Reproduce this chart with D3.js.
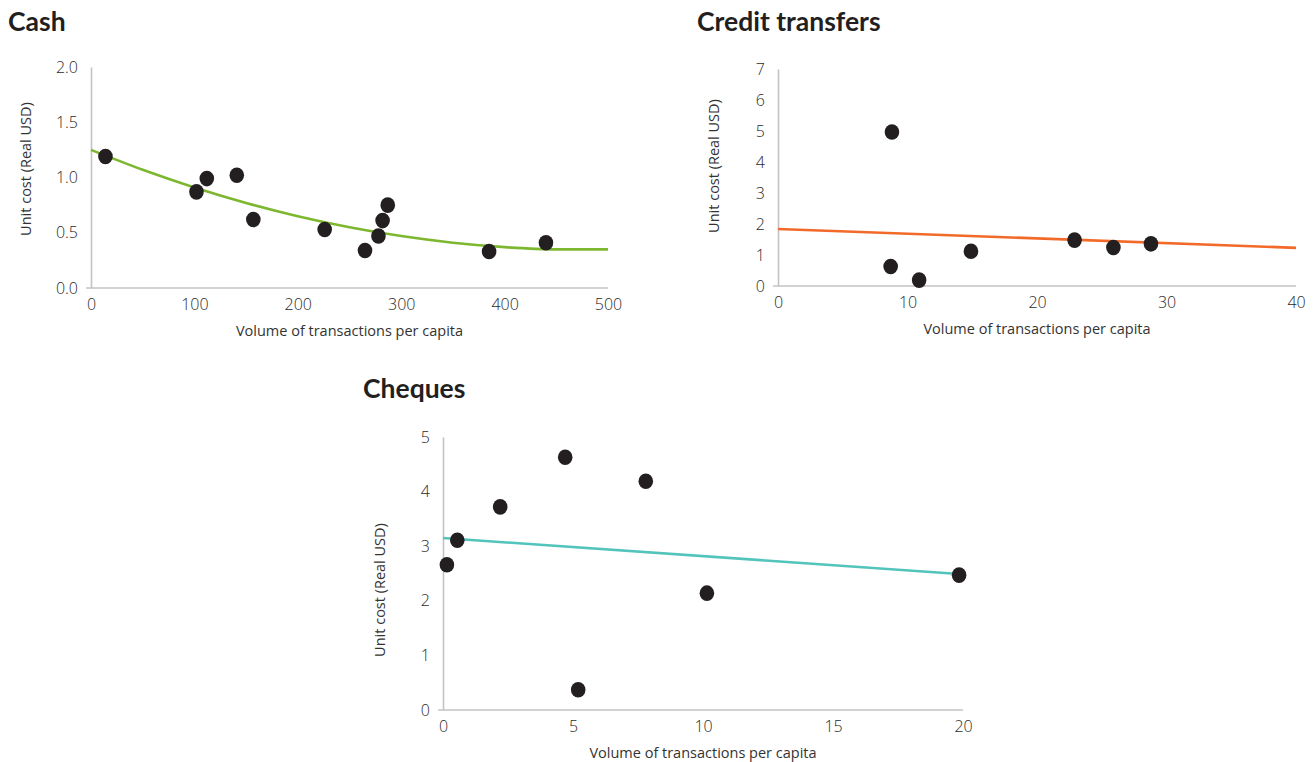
<!DOCTYPE html>
<html>
<head>
<meta charset="utf-8">
<script src="https://cdn.jsdelivr.net/npm/d3@7"></script>
<style>
  html, body { margin: 0; padding: 0; background: #fff; }
  svg { display: block; }
  .title { font-family: Lato, "Noto Sans", sans-serif; font-weight: 700; fill: #231f20; }
  .tick text { font-family: "Open Sans", "Noto Sans", sans-serif; font-weight: 300; fill: #2b2b2b; }
  .axis-title { font-family: "Open Sans", "Noto Sans", sans-serif; font-weight: 400; fill: #333; }
</style>
</head>
<body>
<svg id="chart" width="1315" height="762"></svg>
<script>
// ---- Data ----
// Cash
const cashX = [14, 102, 112, 141, 157, 226, 265, 278, 282, 287, 385, 440];
const cashY = [1.19, 0.87, 0.99, 1.02, 0.62, 0.53, 0.34, 0.47, 0.61, 0.75, 0.33, 0.41];
const cashTrendX = [0, 50, 100, 150, 200, 250, 300, 350, 400, 450, 500];
const cashTrendY = [1.25, 1.07, 0.91, 0.77, 0.65, 0.55, 0.47, 0.41, 0.37, 0.35, 0.35];
const cashXTicks = [0, 100, 200, 300, 400, 500];
const cashYTicks = [0, 0.5, 1.0, 1.5, 2.0];

// Credit transfers
const creditX = [8.8, 8.7, 10.9, 14.9, 22.9, 25.9, 28.8];
const creditY = [4.97, 0.63, 0.19, 1.12, 1.48, 1.24, 1.36];
const creditTrendX = [0, 40];
const creditTrendY = [1.84, 1.23];
const creditXTicks = [0, 10, 20, 30, 40];
const creditYTicks = [0, 1, 2, 3, 4, 5, 6, 7];

// Cheques
const chequeX = [0.15, 0.55, 2.2, 4.7, 5.2, 7.8, 10.15, 19.85];
const chequeY = [2.66, 3.11, 3.72, 4.63, 0.37, 4.19, 2.14, 2.47];
const chequeTrendX = [0, 19.85];
const chequeTrendY = [3.15, 2.49];
const chequeXTicks = [0, 5, 10, 15, 20];
const chequeYTicks = [0, 1, 2, 3, 4, 5];

const yLabel = "Unit cost (Real USD)";
const xLabel = "Volume of transactions per capita";

const svg = d3.select("#chart");

function drawPanel(p) {
  const g = svg.append("g");
  const x = d3.scaleLinear().domain(p.xDomain).range([p.left, p.right]);
  const y = d3.scaleLinear().domain(p.yDomain).range([p.bottom, p.top]);

  // title
  g.append("text").attr("class", "title")
    .attr("x", p.titleX).attr("y", p.titleY)
    .style("font-size", "26.5px")
    .text(p.title);

  // y axis
  const yAxis = d3.axisLeft(y).tickValues(p.yTicks).tickSize(0).tickPadding(13)
    .tickFormat(p.yFormat);
  const ya = g.append("g").attr("transform", `translate(${p.left},0)`).call(yAxis);
  ya.select(".domain").attr("stroke", "#c3c3c3").attr("stroke-width", 1.6);
  ya.selectAll(".tick text").style("font-size", "16px");

  // x axis
  const xAxis = d3.axisBottom(x).tickValues(p.xTicks).tickSize(0).tickPadding(11)
    .tickFormat(d3.format("d"));
  const xa = g.append("g").attr("transform", `translate(0,${p.bottom})`).call(xAxis);
  xa.select(".domain").attr("stroke", "#c3c3c3").attr("stroke-width", 1.6)
    .attr("d", `M${p.left - 5},0H${p.right}`);
  xa.selectAll(".tick text").style("font-size", "16px");

  // axis titles
  g.append("text").attr("class", "axis-title")
    .attr("x", (p.left + p.right) / 2).attr("y", p.bottom + 48)
    .attr("text-anchor", "middle").style("font-size", "14.5px")
    .text(xLabel);
  g.append("text").attr("class", "axis-title")
    .attr("transform", `translate(${p.yTitleX},${p.yTitleY}) rotate(-90)`)
    .attr("text-anchor", "middle").style("font-size", "14.5px")
    .text(yLabel);

  // trend line
  const trend = p.trendX.map((v, i) => [v, p.trendY[i]]);
  g.append("path").datum(trend)
    .attr("fill", "none").attr("stroke", p.color).attr("stroke-width", 2.6)
    .attr("d", d3.line().x(d => x(d[0])).y(d => y(d[1])).curve(d3.curveMonotoneX));

  // points
  const pts = p.xs.map((v, i) => [v, p.ys[i]]);
  g.selectAll("ellipse.pt").data(pts).join("ellipse")
    .attr("class", "pt")
    .attr("cx", d => x(d[0])).attr("cy", d => y(d[1]))
    .attr("rx", 7.3).attr("ry", 7.8)
    .attr("fill", "#231f20");
}

drawPanel({
  title: "Cash", titleX: 8, titleY: 31,
  left: 91, right: 608, top: 67, bottom: 288, yTitleX: 31, yTitleY: 169,
  xDomain: [0, 500], yDomain: [0, 2],
  xTicks: cashXTicks, yTicks: cashYTicks, yFormat: d3.format(".1f"),
  xs: cashX, ys: cashY, trendX: cashTrendX, trendY: cashTrendY,
  color: "#7db72f"
});

drawPanel({
  title: "Credit transfers", titleX: 697, titleY: 31,
  left: 778, right: 1296, top: 69, bottom: 286, yTitleX: 719, yTitleY: 166,
  xDomain: [0, 40], yDomain: [0, 7],
  xTicks: creditXTicks, yTicks: creditYTicks, yFormat: d3.format("d"),
  xs: creditX, ys: creditY, trendX: creditTrendX, trendY: creditTrendY,
  color: "#f26a2a"
});

drawPanel({
  title: "Cheques", titleX: 363, titleY: 398,
  left: 443, right: 963, top: 437, bottom: 710, yTitleX: 385, yTitleY: 590,
  xDomain: [0, 20], yDomain: [0, 5],
  xTicks: chequeXTicks, yTicks: chequeYTicks, yFormat: d3.format("d"),
  xs: chequeX, ys: chequeY, trendX: chequeTrendX, trendY: chequeTrendY,
  color: "#52c4bc"
});
</script>
</body>
</html>
